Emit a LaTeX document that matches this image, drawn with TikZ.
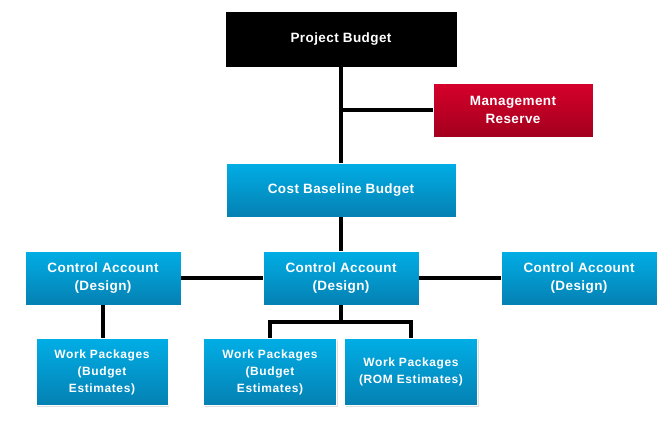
\documentclass[tikz,border=0pt]{standalone}
\usepackage{fontspec}
\setmainfont{Liberation Sans}
\usetikzlibrary{shadows}

\definecolor{boxtop}{HTML}{00AEE6}
\definecolor{boxbot}{HTML}{0580B2}
\definecolor{redtop}{HTML}{D6002B}
\definecolor{redbot}{HTML}{A3001E}

\begin{document}
\begin{tikzpicture}[x=1pt,y=-1pt,font=\bfseries,
    box/.style={draw=white, line width=0.6pt, text=white, align=center,
      minimum width=156pt, minimum height=54pt, inner sep=2pt,
      top color=boxtop, bottom color=boxbot,
      font=\bfseries\fontsize{13.5}{18}\selectfont\addfontfeature{LetterSpace=3},
      drop shadow={opacity=0.25, shadow xshift=1.2pt, shadow yshift=-1.2pt}},
    wide/.style={box, minimum width=230pt},
    reserve/.style={box, minimum width=160pt, top color=redtop, bottom color=redbot},
    package/.style={box, minimum width=133pt, minimum height=67pt,
      font=\bfseries\fontsize{12}{17}\selectfont\addfontfeature{LetterSpace=5}},
    link/.style={line width=3.6pt, black}]

    \useasboundingbox (0,0) rectangle (668,423);

    \node[wide, top color=black, bottom color=black, draw=black] (project) at (341,39) {Project Budget};
    \node[reserve] (reserve) at (513,110) {Management\\Reserve};
    \node[wide] (baseline) at (341,190) {Cost Baseline Budget};

    \node[box] (accleft) at (103,278) {Control Account\\(Design)};
    \node[box] (accmid) at (341,278) {Control Account\\(Design)};
    \node[box] (accright) at (579,278) {Control Account\\(Design)};

    \node[package, minimum width=132pt] (pkgleft) at (102,372) {Work Packages\\(Budget\\Estimates)};
    \node[package] (pkgmid) at (270,372) {Work Packages\\(Budget\\Estimates)};
    \node[package] (pkgrom) at (411,372) {Work Packages\\(ROM Estimates)};

    \coordinate (fork) at (341,322);

    % connectors
    \draw[link] (project.south) -- (baseline.north);
    \draw[link] (reserve.west) -- (project.south |- reserve.west);
    \draw[link] (baseline.south) -- (accmid.north);
    \draw[link] (accleft.east) -- (accmid.west);
    \draw[link] (accmid.east) -- (accright.west);
    \draw[link] (accleft.south) -- (accleft.south |- pkgleft.north);
    \draw[link] (accmid.south) -- (fork);
    \draw[link, line join=miter] (pkgmid.north) |- (fork) -| (pkgrom.north);
\end{tikzpicture}
\end{document}
